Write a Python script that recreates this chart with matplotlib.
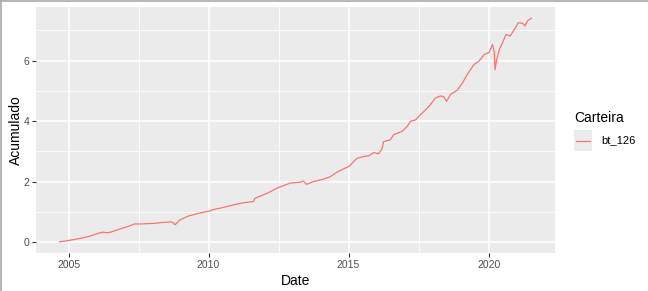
import matplotlib
matplotlib.use("Agg")
import matplotlib.pyplot as plt
from matplotlib.lines import Line2D

# dados (ano decimal, retorno acumulado)
datas = [2004.68, 2004.9, 2005.1, 2005.4, 2005.69, 2005.9, 2006.05, 2006.23, 2006.35, 2006.47,
         2006.7, 2006.89, 2007.1, 2007.36, 2007.6, 2007.8, 2008.08, 2008.32, 2008.55, 2008.68,
         2008.75, 2008.8, 2008.97, 2009.27, 2009.63, 2010.0, 2010.23, 2010.41, 2010.88, 2011.24,
         2011.6, 2011.66, 2012.08, 2012.44, 2012.91, 2013.27, 2013.39, 2013.49, 2013.75, 2014.1,
         2014.34, 2014.58, 2014.82, 2015.03, 2015.18, 2015.3, 2015.54, 2015.72, 2015.9, 2016.07,
         2016.2, 2016.25, 2016.49, 2016.61, 2016.91, 2017.09, 2017.21, 2017.39, 2017.5, 2017.75,
         2017.92, 2018.1, 2018.28, 2018.4, 2018.5, 2018.64, 2018.88, 2019.06, 2019.24, 2019.48,
         2019.66, 2019.84, 2020.02, 2020.14, 2020.2, 2020.23, 2020.29, 2020.38, 2020.5, 2020.62,
         2020.77, 2020.92, 2021.06, 2021.22, 2021.3, 2021.39, 2021.5, 2021.53]
acumulado = [0.01, 0.04, 0.07, 0.12, 0.18, 0.24, 0.29, 0.33, 0.31, 0.32,
             0.39, 0.45, 0.51, 0.60, 0.60, 0.61, 0.62, 0.65, 0.66, 0.67,
             0.62, 0.57, 0.73, 0.86, 0.95, 1.02, 1.09, 1.12, 1.23, 1.30,
             1.34, 1.45, 1.61, 1.78, 1.95, 1.98, 2.02, 1.91, 2.00, 2.08,
             2.16, 2.31, 2.42, 2.51, 2.66, 2.77, 2.83, 2.85, 2.96, 2.92,
             3.10, 3.32, 3.38, 3.55, 3.66, 3.82, 3.99, 4.04, 4.15, 4.37,
             4.54, 4.76, 4.83, 4.80, 4.65, 4.88, 5.02, 5.25, 5.54, 5.87,
             5.98, 6.20, 6.27, 6.53, 6.31, 5.70, 6.03, 6.36, 6.59, 6.86,
             6.81, 7.03, 7.25, 7.23, 7.14, 7.31, 7.38, 7.40]
serie = "bt_126"
anos_ticks = [2005, 2010, 2015, 2020]
anos_minor = [2007.5, 2012.5, 2017.5]
y_ticks = [0, 2, 4, 6]
y_minor = [1, 3, 5, 7]

plt.rcParams["font.family"] = ["Liberation Sans", "DejaVu Sans"]

fig = plt.figure(figsize=(6.48, 2.91), dpi=100)
ax = fig.add_axes([36 / 648, 1 - 253 / 291, (555 - 36) / 648, (253 - 7) / 291])
ax.set_facecolor("#EBEBEB")

# grade estilo ggplot
for x in anos_minor:
    ax.axvline(x, color="white", lw=0.6, zorder=0)
for y in y_minor:
    ax.axhline(y, color="white", lw=0.6, zorder=0)
for x in anos_ticks:
    ax.axvline(x, color="white", lw=1.1, zorder=0)
for y in y_ticks:
    ax.axhline(y, color="white", lw=1.1, zorder=0)

ax.plot(datas, acumulado, color="#F8766D", lw=0.9, zorder=2)

# expansao de 5% como no ggplot
xr = max(datas) - min(datas)
yr = max(acumulado) - min(acumulado)
ax.set_xlim(min(datas) - 0.05 * xr, max(datas) + 0.05 * xr)
ax.set_ylim(min(acumulado) - 0.05 * yr, max(acumulado) + 0.05 * yr)

ax.set_xticks(anos_ticks)
ax.set_xticklabels([str(a) for a in anos_ticks])
ax.set_yticks(y_ticks)
ax.set_yticklabels([str(v) for v in y_ticks])
ax.tick_params(axis="both", length=3, width=0.8, color="#333333", labelcolor="#4D4D4D",
               labelsize=7.5, pad=2)
for s in ax.spines.values():
    s.set_visible(False)

ax.set_xlabel("Date", fontsize=10, color="black", labelpad=3)
ax.set_ylabel("Acumulado", fontsize=10, color="black", labelpad=0)

# legenda
fig.text(574 / 648, 1 - 118 / 291, "Carteira", fontsize=10, va="center", ha="left")
fig.patches.append(plt.Rectangle((574 / 648, 1 - 151 / 291), 18 / 648, 21 / 291,
                                 transform=fig.transFigure, facecolor="#EBEBEB",
                                 edgecolor="none"))
fig.add_artist(Line2D([576 / 648, 590 / 648], [1 - 140.5 / 291, 1 - 140.5 / 291],
                      color="#F8766D", lw=0.9))
fig.text(601 / 648, 1 - 140.5 / 291, serie, fontsize=8, va="center", ha="left")

# moldura da captura de tela
fig.add_artist(Line2D([0.5 / 648, 0.5 / 648], [0, 1], color="#AAAAAA", lw=1.2))
fig.add_artist(Line2D([0, 1], [1 - 0.5 / 291, 1 - 0.5 / 291], color="#AAAAAA", lw=1.2))

fig.savefig("out.png", dpi=100)
